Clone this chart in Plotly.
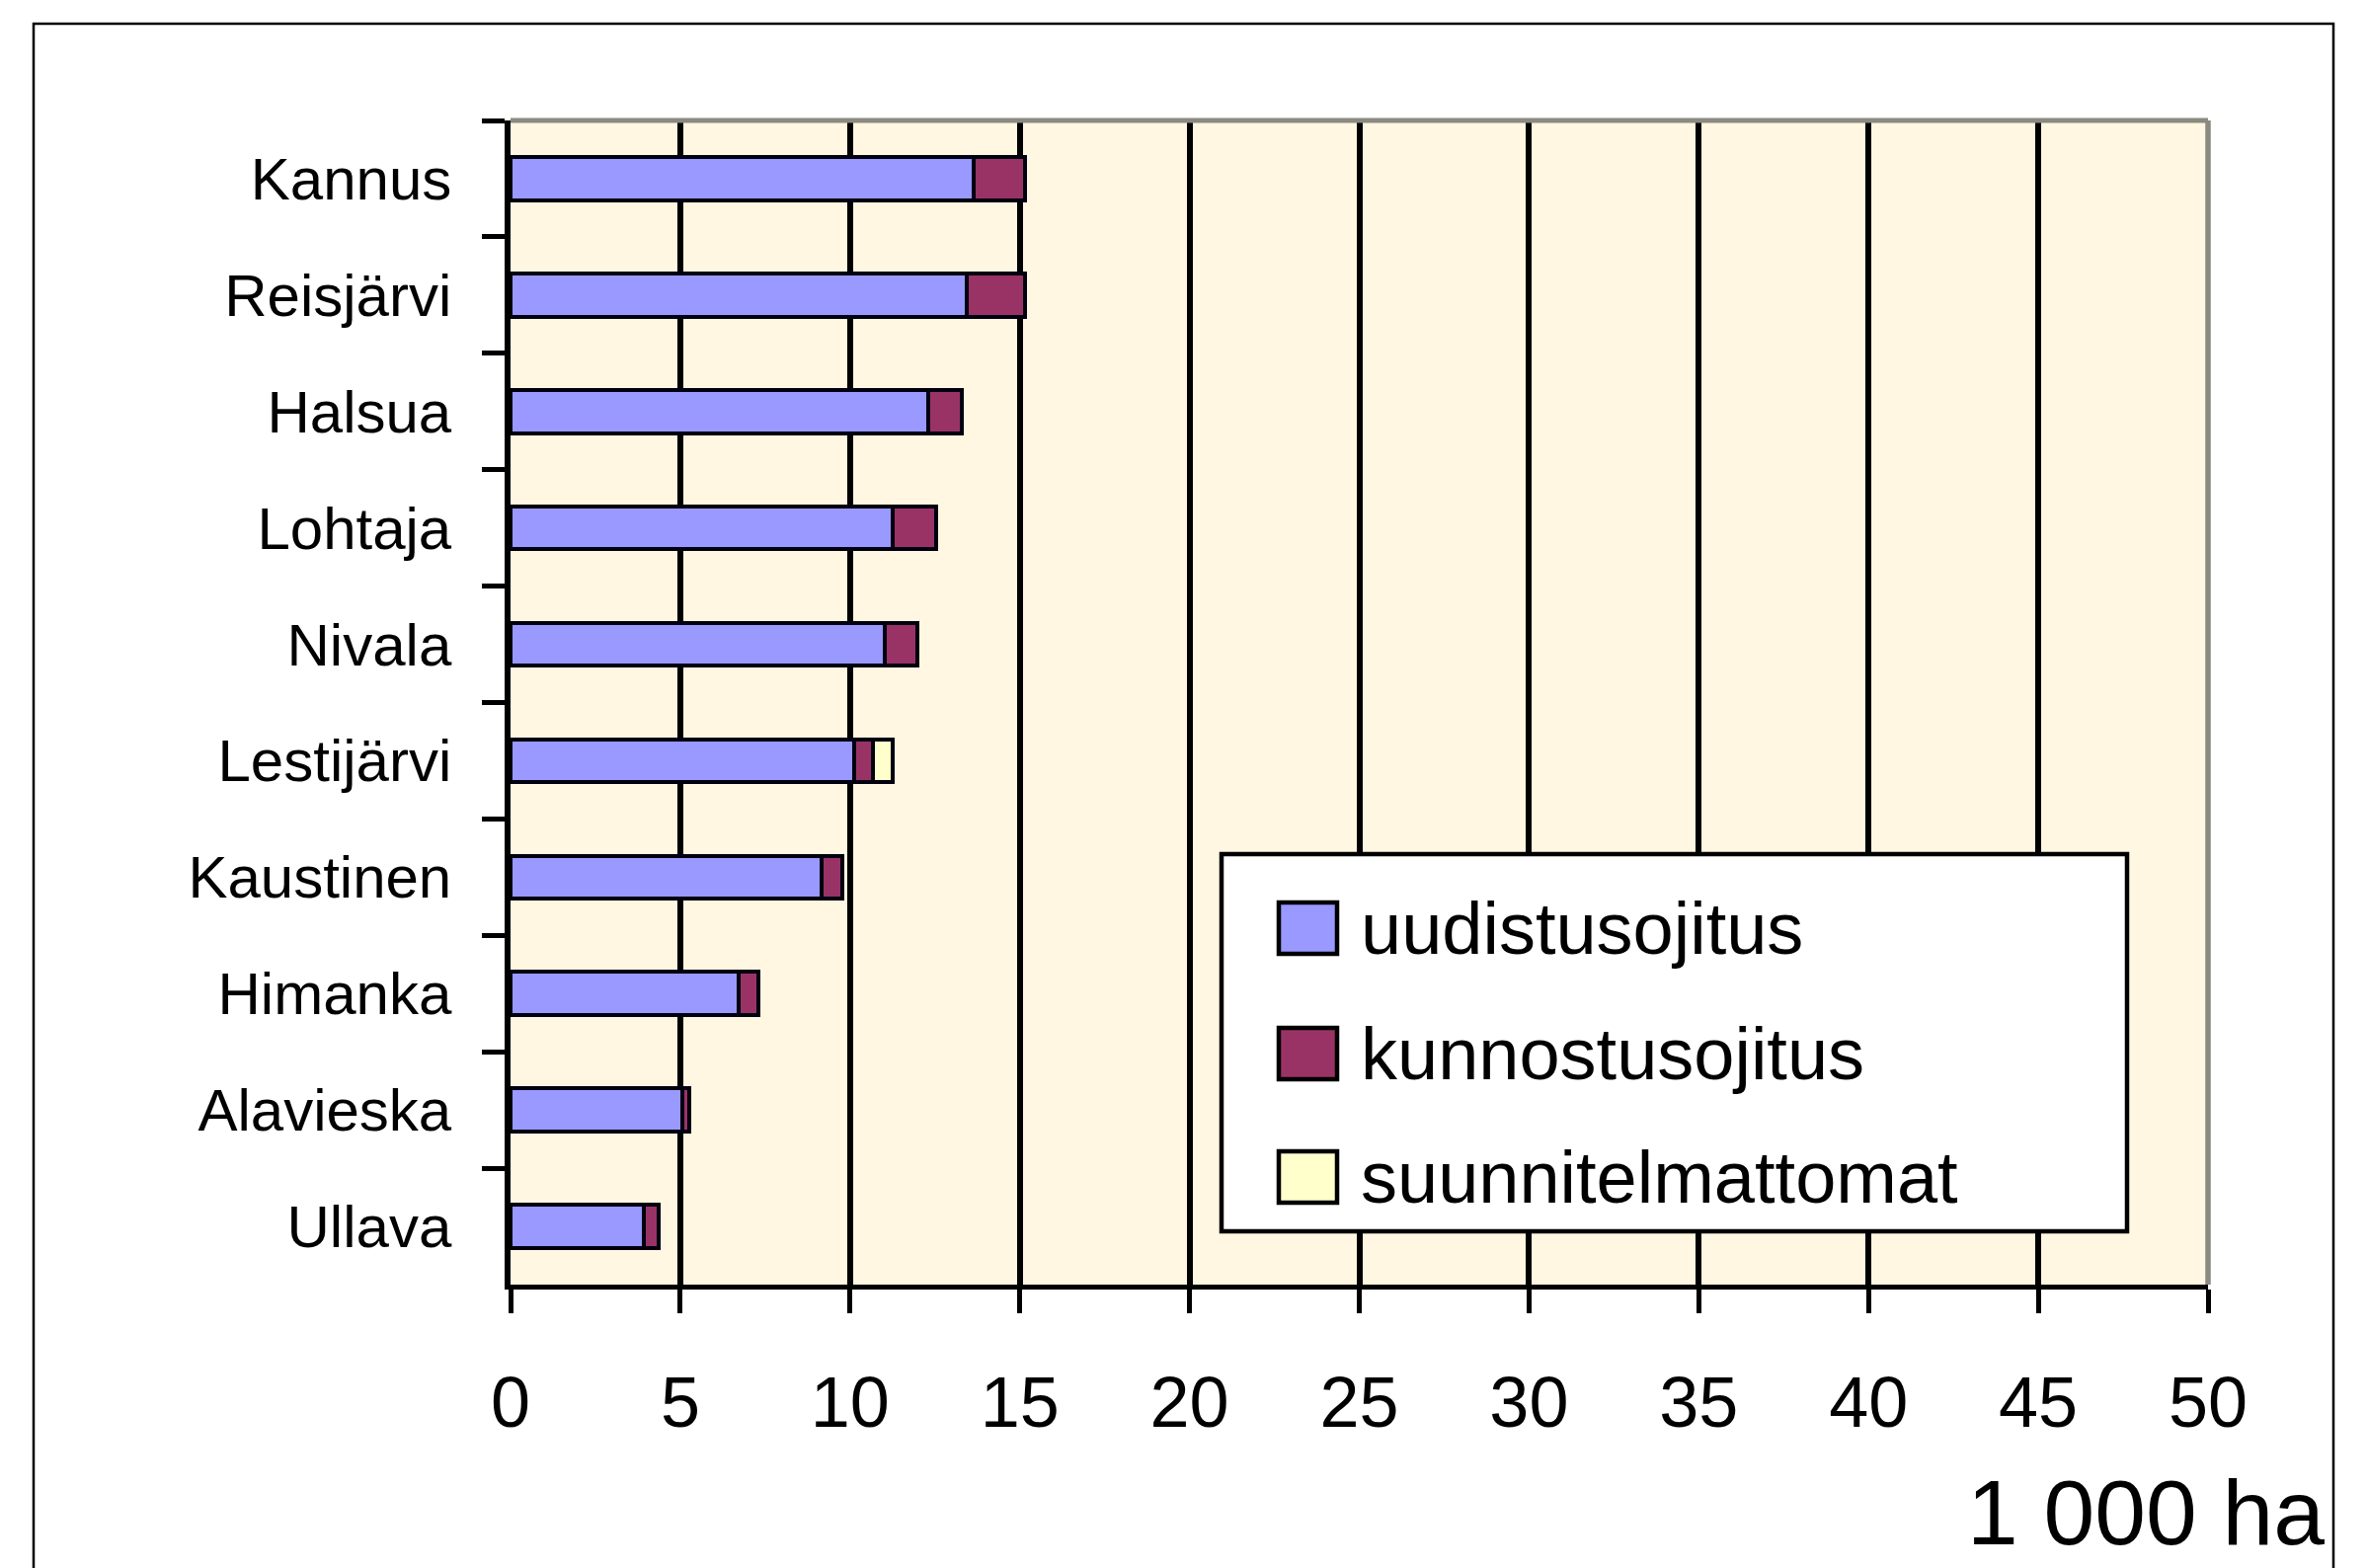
import plotly.graph_objects as go

# ---- data (1000 ha) ----
kunnat = ["Kannus", "Reisjärvi", "Halsua", "Lohtaja", "Nivala",
          "Lestijärvi", "Kaustinen", "Himanka", "Alavieska", "Ullava"]
uudistusojitus = [13.65, 13.45, 12.3, 11.25, 11.02, 10.13, 9.17, 6.72, 5.07, 3.92]
kunnostusojitus = [1.5, 1.7, 1.0, 1.3, 0.97, 0.55, 0.6, 0.58, 0.2, 0.43]
suunnitelmattomat = [None, None, None, None, None, 0.57, None, None, None, None]
series_names = ["uudistusojitus", "kunnostusojitus", "suunnitelmattomat"]
series_colors = ["#9999FF", "#993366", "#FFFFCC"]
x_ticks = [0, 5, 10, 15, 20, 25, 30, 35, 40, 45, 50]
unit_label = "1 000 ha"

W, H = 2397, 1588
OFF = 8  # page body margin
L, R, T, B = 517 - OFF, 2236 - OFF, 122 - OFF, 1301 - OFF  # plot area in figure pixels


def px(x):
    return (x - OFF - L) / (R - L)


def py(y):
    return (B - (y - OFF)) / (B - T)


fig = go.Figure()
for name, vals, col in zip(series_names,
                           [uudistusojitus, kunnostusojitus, suunnitelmattomat],
                           series_colors):
    fig.add_trace(go.Bar(
        y=kunnat, x=vals, name=name, orientation="h",
        marker=dict(color=col, line=dict(color="#000010", width=4)),
        width=0.37, showlegend=False,
    ))

font_name = "Liberation Sans, Arial, sans-serif"

fig.update_layout(
    width=W, height=H,
    barmode="stack",
    paper_bgcolor="white",
    plot_bgcolor="#FFF7E1",
    margin=dict(l=L, r=W - R, t=T, b=H - B, pad=0),
    font=dict(family=font_name, color="black"),
    xaxis=dict(
        range=[0, 50], tickvals=x_ticks, ticktext=[str(v) for v in x_ticks],
        showgrid=True, gridcolor="black", gridwidth=5.5,
        zeroline=False, showline=True, linecolor="black", linewidth=5,
        ticks="outside", ticklen=24, tickwidth=5, tickcolor="black",
        tickfont=dict(size=72, family=font_name, color="black"),
        ticklabelstandoff=29,
    ),
    yaxis=dict(
        type="category", categoryorder="array", categoryarray=kunnat,
        autorange="reversed",
        showgrid=False, zeroline=False,
        showline=True, linecolor="black", linewidth=5.5,
        ticks="outside", ticklen=23, tickwidth=5, tickcolor="black",
        tickson="boundaries",
        tickfont=dict(size=60, family=font_name, color="black"),
        ticklabelstandoff=42,
    ),
)

shapes = []
# grey top / right border of plot area
shapes.append(dict(type="line", xref="paper", yref="paper", x0=0, x1=1, y0=1, y1=1,
                   line=dict(color="#8A8A80", width=5), layer="above"))
shapes.append(dict(type="line", xref="paper", yref="paper", x0=1, x1=1, y0=0, y1=1,
                   line=dict(color="#8A8A80", width=5.5), layer="above"))
# outer frame
shapes.append(dict(type="rect", xref="paper", yref="paper",
                   x0=px(34), x1=px(2363), y0=py(1640), y1=py(24),
                   line=dict(color="black", width=2.5), fillcolor="rgba(0,0,0,0)",
                   layer="below"))
# manual legend box
shapes.append(dict(type="rect", xref="paper", yref="paper",
                   x0=px(1237), x1=px(2154), y0=py(1247), y1=py(865),
                   line=dict(color="black", width=4.5), fillcolor="white", layer="above"))
annotations = []
centers = [940, 1067, 1192]
for name, col, cy in zip(series_names, series_colors, centers):
    shapes.append(dict(type="rect", xref="paper", yref="paper",
                       x0=px(1295), x1=px(1354), y0=py(cy + 26), y1=py(cy - 26),
                       line=dict(color="black", width=4.5), fillcolor=col, layer="above"))
    annotations.append(dict(xref="paper", yref="paper", x=px(1376), y=py(cy),
                            xanchor="left", yanchor="middle", showarrow=False,
                            text=name, font=dict(size=74, family=font_name, color="black")))

annotations.append(dict(xref="paper", yref="paper", x=px(2356), y=py(1532),
                        xanchor="right", yanchor="middle", showarrow=False,
                        text=unit_label,
                        font=dict(size=93, family=font_name, color="black")))

fig.update_layout(shapes=shapes, annotations=annotations)
fig.write_html("out.html")
